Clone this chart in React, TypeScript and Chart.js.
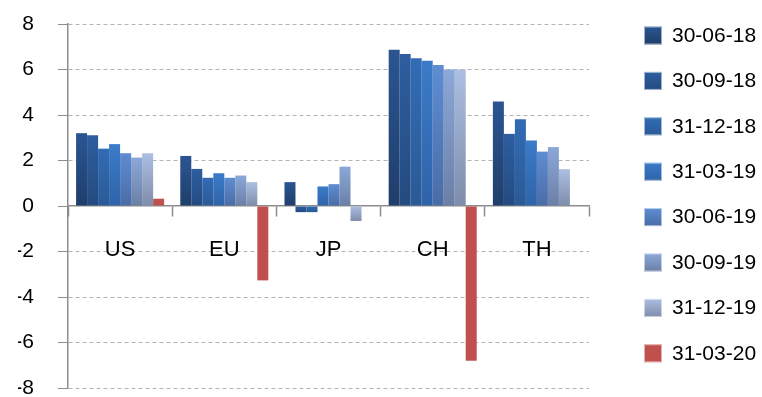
import { useEffect, useRef } from "react";
import { Chart, registerables } from "chart.js";

Chart.register(...registerables);

// Regions on the category axis
const regions = ["US", "EU", "JP", "CH", "TH"];

// Quarter-end dates, one bar series each
const quarters = [
  "30-06-18",
  "30-09-18",
  "31-12-18",
  "31-03-19",
  "30-06-19",
  "30-09-19",
  "31-12-19",
  "31-03-20",
];

// Values per quarter, in region order (US, EU, JP, CH, TH)
const q30_06_18 = [3.2, 2.2, 1.05, 6.87, 4.59];
const q30_09_18 = [3.11, 1.63, -0.27, 6.68, 3.17];
const q31_12_18 = [2.52, 1.24, -0.27, 6.49, 3.81];
const q31_03_19 = [2.72, 1.44, 0.86, 6.39, 2.88];
const q30_06_19 = [2.32, 1.24, 0.96, 6.2, 2.39];
const q30_09_19 = [2.13, 1.34, 1.73, 6.0, 2.59];
const q31_12_19 = [2.32, 1.05, -0.66, 6.0, 1.62];
const q31_03_20 = [0.32, -3.27, null, -6.8, null];

const seriesValues = [
  q30_06_18,
  q30_09_18,
  q31_12_18,
  q31_03_19,
  q30_06_19,
  q30_09_19,
  q31_12_19,
  q31_03_20,
];

// Value axis range and step
const yMin = -8;
const yMax = 8;
const yStep = 2;

// Top / bottom colours of each series' vertical gradient
const fillTop = [
  "#2b5592",
  "#2d5e9f",
  "#326cb5",
  "#3b7bc9",
  "#5e8dd2",
  "#8ca8d8",
  "#acbfe2",
  "#c0504d",
];
const fillBottom = [
  "#1f3e6b",
  "#244b80",
  "#2a5a96",
  "#2f63a8",
  "#4a6ca6",
  "#6b7fa6",
  "#7f8cab",
  "#c0504d",
];

const FONT = "'Liberation Sans', Arial, Helvetica, sans-serif";

function barGradient(i: number) {
  return (ctx: any) => {
    const chart = ctx.chart;
    const y = chart.scales && chart.scales.y;
    const v = ctx.raw;
    if (!y || ctx.type !== "data" || v == null) return fillTop[i];
    const p0 = y.getPixelForValue(0);
    const p1 = y.getPixelForValue(v);
    if (!Number.isFinite(p0) || !Number.isFinite(p1)) return fillTop[i];
    const top = Math.min(p0, p1);
    const bottom = Math.max(p0, p1);
    if (bottom - top < 1) return fillTop[i];
    const g = chart.ctx.createLinearGradient(0, top, 0, bottom);
    g.addColorStop(0, fillTop[i]);
    g.addColorStop(1, fillBottom[i]);
    return g;
  };
}

// Vertical legend drawn to the right of the plot
const sideLegend = {
  id: "sideLegend",
  afterDraw(chart: any) {
    const c = chart.ctx as CanvasRenderingContext2D;
    const boxX = 644;
    const box = 18;
    const firstY = 35.5;
    const gap = 45.4;
    c.save();
    chart.data.datasets.forEach((ds: any, i: number) => {
      const cy = firstY + gap * i;
      const top = cy - box / 2;
      const g = c.createLinearGradient(0, top, 0, top + box);
      g.addColorStop(0, fillTop[i]);
      g.addColorStop(1, fillBottom[i]);
      c.fillStyle = g;
      c.fillRect(boxX, top, box, box);
      c.strokeStyle = "rgba(255,255,255,0.55)";
      c.lineWidth = 1;
      c.strokeRect(boxX + 0.5, top + 0.5, box - 1, box - 1);
      c.fillStyle = "#000";
      c.font = `21px ${FONT}`;
      c.textAlign = "left";
      c.textBaseline = "middle";
      c.fillText(ds.label, 672, cy + 0.5);
    });
    c.restore();
  },
};

export default function App() {
  const canvasRef = useRef<HTMLCanvasElement | null>(null);

  useEffect(() => {
    const canvas = canvasRef.current;
    if (!canvas) return;

    const chart = new Chart(canvas, {
      type: "bar",
      data: {
        labels: regions,
        datasets: quarters.map((q, i) => ({
          label: q,
          data: seriesValues[i] as any,
          backgroundColor: barGradient(i),
          borderWidth: 0,
          categoryPercentage: 0.845,
          barPercentage: 1,
        })),
      },
      options: {
        animation: false,
        responsive: false,
        maintainAspectRatio: false,
        layout: {
          padding: { left: 18, right: 173, top: 24, bottom: 9 },
        },
        plugins: {
          legend: { display: false },
          tooltip: { enabled: false },
        },
        scales: {
          x: {
            position: { y: 0 } as any,
            z: 1,
            grid: {
              display: true,
              offset: true,
              drawOnChartArea: false,
              drawTicks: true,
              tickLength: 10,
              tickColor: "#8c8c8c",
              tickWidth: 1.5,
            },
            border: { display: true, color: "#8c8c8c", width: 1.5 },
            ticks: {
              color: "#000",
              font: { family: FONT, size: 22 },
              padding: 21,
              maxRotation: 0,
              autoSkip: false,
            },
          },
          y: {
            min: yMin,
            max: yMax,
            afterFit: (scale: any) => {
              scale.width = 50;
            },
            grid: {
              color: (ctx: any) =>
                ctx.tick && ctx.tick.value === 0 ? "rgba(0,0,0,0)" : "#b4b4b4",
              lineWidth: 1,
              // long tick slot; only its last 10px are drawn, leaving a gap before the label
              tickLength: 34,
              tickColor: "#8c8c8c",
              tickBorderDash: [0, 24, 10, 0],
            },
            border: { display: true, color: "#8c8c8c", width: 1.5, dash: [4, 3] },
            ticks: {
              stepSize: yStep,
              color: "#000",
              font: { family: FONT, size: 21, lineHeight: 0.8 },
              padding: 0,
            },
          },
        },
      },
      plugins: [sideLegend],
    });

    return () => chart.destroy();
  }, []);

  return (
    <div
      style={{
        position: "fixed",
        left: 0,
        top: 0,
        width: 762,
        height: 397,
        background: "#fff",
      }}
    >
      <canvas ref={canvasRef} width={762} height={397} style={{ display: "block" }} />
    </div>
  );
}
